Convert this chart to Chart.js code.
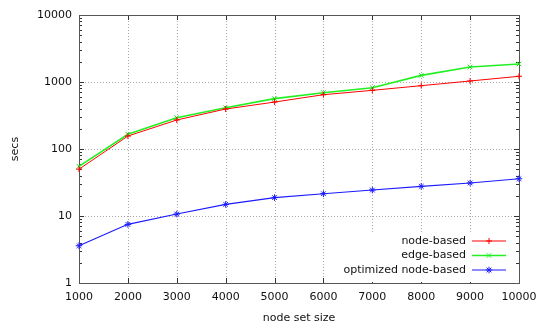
<!DOCTYPE html>
<html>
<head>
<meta charset="utf-8">
<script src="https://cdn.jsdelivr.net/npm/chart.js@4.4.0/dist/chart.umd.min.js"></script>
<style>
html,body{margin:0;padding:0;background:#fff;}
#wrap{width:538px;height:326px;position:relative;}
</style>
</head>
<body>
<div id="wrap"><canvas id="timeChart"></canvas></div>
<script>
const nodeSizes = [1000, 2000, 3000, 4000, 5000, 6000, 7000, 8000, 9000, 10000];
const nodeBased = [50, 156, 271, 395, 502, 646, 751, 881, 1035, 1216];
const edgeBased = [55, 166, 293, 413, 564, 693, 822, 1256, 1674, 1857];
const optimizedNodeBased = [3.6, 7.5, 10.7, 14.9, 18.8, 21.5, 24.4, 27.7, 31.1, 36];
const xTicks = [1000, 2000, 3000, 4000, 5000, 6000, 7000, 8000, 9000, 10000];
const yTicks = [1, 10, 100, 1000, 10000];

const FONT = "'DejaVu Sans'";

function pts(values) {
    return nodeSizes.map((n, i) => ({x: n, y: values[i]}));
}

// gnuplot look: dotted grid, full border, inward ticks, boxed key
const gnuFrame = {
    id: "gnuFrame",
    beforeDatasetsDraw(chart) {
        const {ctx, chartArea: a, scales} = chart;
        const x = scales.x, y = scales.y;
        ctx.save();

        ctx.strokeStyle = "#a8a8a8";
        ctx.lineWidth = 1;
        ctx.setLineDash([1, 2]);
        ctx.beginPath();
        xTicks.forEach(v => {
            const px = Math.round(x.getPixelForValue(v)) + 0.5;
            ctx.moveTo(px, a.top);
            ctx.lineTo(px, a.bottom);
        });
        yTicks.forEach(v => {
            const py = Math.round(y.getPixelForValue(v)) + 0.5;
            ctx.moveTo(a.left, py);
            ctx.lineTo(a.right, py);
        });
        ctx.stroke();
        ctx.setLineDash([]);

        ctx.strokeStyle = "#333";
        ctx.beginPath();
        xTicks.forEach(v => {
            const px = Math.round(x.getPixelForValue(v)) + 0.5;
            ctx.moveTo(px, a.bottom); ctx.lineTo(px, a.bottom - 5);
            ctx.moveTo(px, a.top); ctx.lineTo(px, a.top + 5);
        });
        yTicks.forEach((v, i) => {
            const py = Math.round(y.getPixelForValue(v)) + 0.5;
            ctx.moveTo(a.left, py); ctx.lineTo(a.left + 5, py);
            ctx.moveTo(a.right, py); ctx.lineTo(a.right - 5, py);
            if (i < yTicks.length - 1) {
                for (let m = 2; m <= 9; m++) {
                    const pm = Math.round(y.getPixelForValue(v * m)) + 0.5;
                    ctx.moveTo(a.left, pm); ctx.lineTo(a.left + 3, pm);
                    ctx.moveTo(a.right, pm); ctx.lineTo(a.right - 3, pm);
                }
            }
        });
        ctx.stroke();

        ctx.strokeStyle = "#555";
        ctx.strokeRect(Math.round(a.left) + 0.5, Math.round(a.top) + 0.5,
            Math.round(a.right - a.left), Math.round(a.bottom - a.top));
        ctx.restore();
    },
    afterDatasetsDraw(chart) {
        const {ctx, chartArea: a} = chart;
        const textX = a.right - 53;
        ctx.save();
        ctx.fillStyle = "#fff";
        ctx.fillRect(a.right - 181, a.bottom - 51, 175, 50);

        ctx.font = "11px " + FONT;
        ctx.textAlign = "right";
        ctx.textBaseline = "middle";
        chart.data.datasets.forEach((ds, i) => {
            const yy = a.bottom - 42 + i * 14.5;
            ctx.fillStyle = "#111";
            ctx.fillText(ds.label, textX, yy);
            ctx.strokeStyle = ds.borderColor;
            ctx.lineWidth = ds.borderWidth;
            ctx.beginPath();
            ctx.moveTo(textX + 6, yy);
            ctx.lineTo(textX + 40, yy);
            ctx.stroke();
            ctx.lineWidth = 1;
            Chart.helpers.drawPoint(ctx, {
                pointStyle: ds.pointStyle, radius: ds.pointRadius,
                rotation: 0, borderWidth: 1
            }, textX + 23, yy);
        });
        ctx.restore();
    }
};

const ctx = document.getElementById("timeChart");

new Chart(ctx, {

    type: "line",

    data: {
        datasets: [{
            label: "node-based",
            data: pts(nodeBased),
            borderColor: "#ff0000",
            borderWidth: 1,
            pointStyle: "cross",
            pointRadius: 3,
            pointBorderColor: "#ff0000",
            pointBorderWidth: 1,
            clip: false
        }, {
            label: "edge-based",
            data: pts(edgeBased),
            borderColor: "#22f022",
            borderWidth: 1.6,
            pointStyle: "crossRot",
            pointRadius: 3.2,
            pointBorderColor: "#10e010",
            pointBorderWidth: 1,
            clip: false
        }, {
            label: "optimized node-based",
            data: pts(optimizedNodeBased),
            borderColor: "#1a1aff",
            borderWidth: 1.1,
            pointStyle: "star",
            pointRadius: 3.3,
            pointBorderColor: "#1a1aff",
            pointBorderWidth: 1,
            clip: false
        }]
    },

    options: {
        responsive: true,
        maintainAspectRatio: false,
        animation: false,
        layout: {
            padding: {top: 15, right: 19, left: 0, bottom: 0}
        },
        plugins: {
            legend: {display: false},
            tooltip: {enabled: false}
        },
        scales: {
            x: {
                type: "linear",
                min: 1000,
                max: 10000,
                afterBuildTicks: s => { s.ticks = xTicks.map(v => ({value: v})); },
                afterFit: s => { s.height = 43; s.paddingLeft = 0; s.paddingRight = 0; },
                grid: {display: false, drawTicks: false},
                border: {display: false},
                ticks: {
                    padding: 8,
                    maxRotation: 0,
                    color: "#111",
                    font: {family: FONT, size: 11},
                    callback: v => String(v)
                },
                title: {
                    display: true,
                    text: "node set size",
                    color: "#111",
                    font: {family: FONT, size: 11},
                    padding: {top: 0, bottom: 1}
                }
            },
            y: {
                type: "logarithmic",
                min: 1,
                max: 10000,
                afterBuildTicks: s => { s.ticks = yTicks.map(v => ({value: v})); },
                afterFit: s => { s.width = 79; s.paddingTop = 0; s.paddingBottom = 0; },
                grid: {display: false, drawTicks: false},
                border: {display: false},
                ticks: {
                    padding: 7,
                    color: "#111",
                    font: {family: FONT, size: 11},
                    callback: v => String(v)
                },
                title: {
                    display: true,
                    text: "secs",
                    color: "#111",
                    font: {family: FONT, size: 11},
                    padding: {top: 9, bottom: 0}
                }
            }
        }
    },

    plugins: [gnuFrame]
});
</script>
</body>
</html>
